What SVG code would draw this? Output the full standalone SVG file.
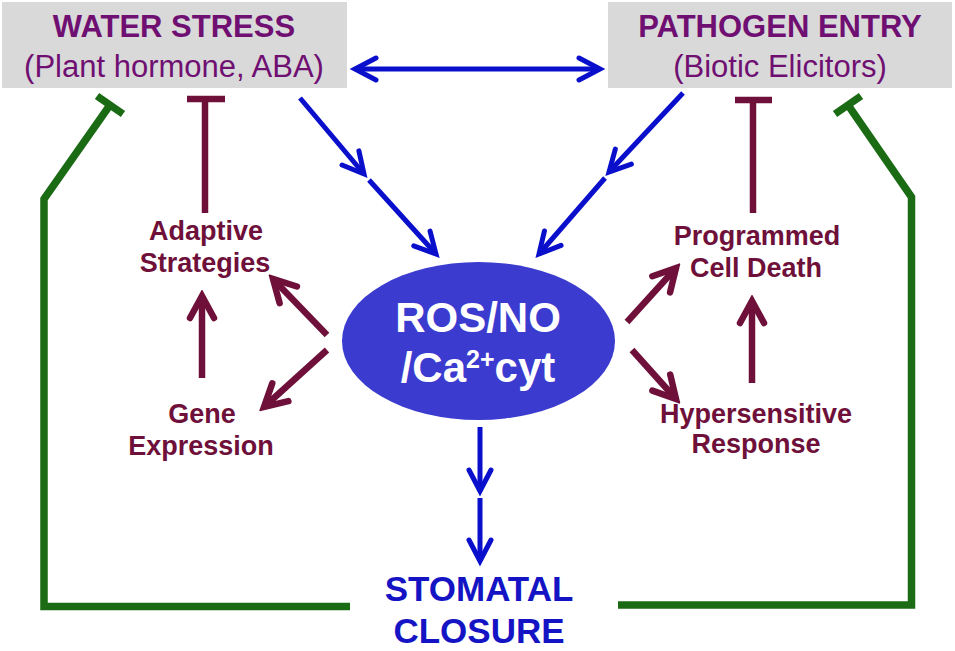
<svg xmlns="http://www.w3.org/2000/svg" width="955" height="651" viewBox="0 0 955 651">
<style>
.box{fill:#d9d9d9}
.title{font-family:"Liberation Sans",Arial,sans-serif;font-size:31px;fill:#700f72;text-anchor:middle}
.b{font-weight:bold}
.lbl{font-family:"Liberation Sans",Arial,sans-serif;font-size:27px;font-weight:bold;fill:#6e1039;text-anchor:middle}
.ros{font-family:"Liberation Sans",Arial,sans-serif;font-size:42px;font-weight:bold;fill:#ffffff;text-anchor:middle}
.sc{font-family:"Liberation Sans",Arial,sans-serif;font-size:35px;font-weight:bold;fill:#1414c4;text-anchor:middle}
.blue{fill:none;stroke:#0a0fcc;stroke-width:5}
.mar{fill:none;stroke:#6e1039;stroke-width:6.5}
.grn{fill:none;stroke:#1a6b14;stroke-width:7.5}
</style>
<defs>
<marker id="ab" viewBox="-30 -16 36 32" refX="0" refY="0" markerWidth="36" markerHeight="32" orient="auto-start-reverse" markerUnits="userSpaceOnUse">
<path d="M-21,-11 L0,0 L-21,11" fill="none" stroke="#0a0fcc" stroke-width="5" stroke-linecap="round"/>
</marker>
<marker id="am" viewBox="-30 -16 36 32" refX="0" refY="0" markerWidth="36" markerHeight="32" orient="auto" markerUnits="userSpaceOnUse">
<path d="M-22,-12 L0,0 L-22,12" fill="none" stroke="#6e1039" stroke-width="6.5" stroke-linecap="round"/>
</marker>
</defs>
<rect width="955" height="651" fill="#ffffff"/>

<g id="water-stress">
<rect class="box" x="2" y="2" width="345" height="86"/>
<text class="title b" x="174" y="37">WATER STRESS</text>
<text class="title" x="174" y="77">(Plant hormone, ABA)</text>
</g>
<g id="pathogen-entry">
<rect class="box" x="608" y="2" width="344" height="86"/>
<text class="title b" x="780" y="37">PATHOGEN ENTRY</text>
<text class="title" x="780" y="77">(Biotic Elicitors)</text>
</g>
<g id="ros">
<ellipse cx="478.5" cy="341" rx="136.5" ry="79" fill="#3b3bcf"/>
<text class="ros" x="478" y="332">ROS/NO</text>
<text class="ros" x="478" y="382">/Ca<tspan font-size="25" dy="-14">2+</tspan><tspan dy="14">cyt</tspan></text>
</g>
<g id="adaptive">
<text class="lbl" x="206" y="240">Adaptive</text>
<text class="lbl" x="205" y="272">Strategies</text>
</g>
<g id="gene">
<text class="lbl" x="202" y="423">Gene</text>
<text class="lbl" x="201" y="455">Expression</text>
</g>
<g id="pcd">
<text class="lbl" x="757" y="245">Programmed</text>
<text class="lbl" x="756" y="277">Cell Death</text>
</g>
<g id="hr">
<text class="lbl" x="756" y="423">Hypersensitive</text>
<text class="lbl" x="756" y="453">Response</text>
</g>
<g id="stomatal">
<text class="sc" x="479" y="601">STOMATAL</text>
<text class="sc" x="479" y="643">CLOSURE</text>
</g>

<g id="connectors">
<line class="blue" x1="355" y1="69" x2="600" y2="69" marker-start="url(#ab)" marker-end="url(#ab)"/>
<line class="blue" x1="300" y1="98" x2="364" y2="174" marker-end="url(#ab)"/>
<line class="blue" x1="369" y1="180" x2="436" y2="254" marker-end="url(#ab)"/>
<line class="blue" x1="683" y1="93" x2="609" y2="172" marker-end="url(#ab)"/>
<line class="blue" x1="605" y1="178" x2="539" y2="254" marker-end="url(#ab)"/>
<line class="blue" x1="480" y1="427" x2="480" y2="491" marker-end="url(#ab)"/>
<line class="blue" x1="480" y1="498" x2="480" y2="561" marker-end="url(#ab)"/>
<line class="mar" x1="205" y1="213" x2="205" y2="96"/>
<line class="mar" x1="187" y1="99" x2="225" y2="99" stroke-width="8"/>
<line class="mar" x1="753" y1="213" x2="753" y2="97"/>
<line class="mar" x1="735" y1="100" x2="772" y2="100" stroke-width="8"/>
<line class="mar" x1="202" y1="378" x2="202" y2="296" marker-end="url(#am)"/>
<line class="mar" x1="327" y1="335" x2="273" y2="279" marker-end="url(#am)"/>
<line class="mar" x1="327" y1="350" x2="264" y2="407" marker-end="url(#am)"/>
<line class="mar" x1="627" y1="322" x2="676" y2="268" marker-end="url(#am)"/>
<line class="mar" x1="632" y1="350" x2="676" y2="399" marker-end="url(#am)"/>
<line class="mar" x1="752" y1="383" x2="752" y2="301" marker-end="url(#am)"/>
<path class="grn" d="M350,606.5 L44,606.5 L44,199 L110,105"/>
<line class="grn" x1="97" y1="96" x2="123" y2="114"/>
<path class="grn" d="M618,605 L911.5,605 L911.5,197 L848,105"/>
<line class="grn" x1="835" y1="114" x2="861" y2="96"/>
</g>
</svg>
